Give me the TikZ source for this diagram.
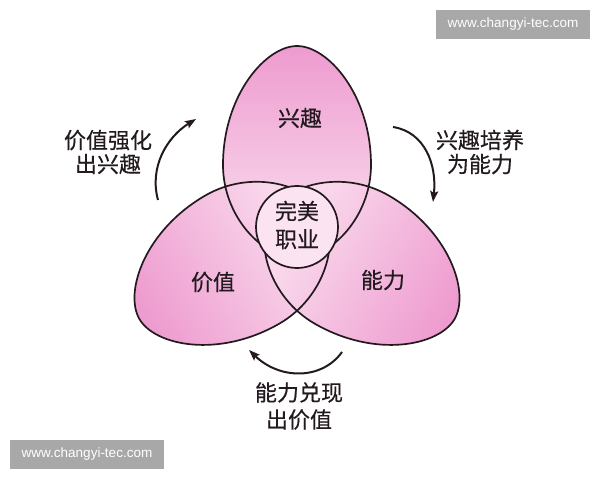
\documentclass[tikz,border=0pt]{standalone}
\usepackage{fontspec}
\usepackage{tikz}
\usetikzlibrary{arrows.meta}
\newfontfamily\cjk[FakeBold=0.4]{Noto Sans CJK SC}
\newfontfamily\webfont{Liberation Sans}
\definecolor{petaldeep}{HTML}{EE9BCF}
\definecolor{petalpale}{HTML}{FBE3F1}
\definecolor{ink}      {HTML}{231A1F}
\definecolor{mark}     {HTML}{A8A8A8}
\newcommand{\petalpath}{(0,182) .. controls (31,182) and (74,133) .. (74,63)
  .. controls (74,12) and (35,-30) .. (0,-30)
  .. controls (-35,-30) and (-74,12) .. (-74,63)
  .. controls (-74,133) and (-31,182) .. (0,182) -- cycle}

\begin{document}
\begin{tikzpicture}[x=1pt, y=1pt,
    cnlabel/.style={font=\cjk\fontsize{22}{24}\selectfont, text=ink, align=center, inner sep=0pt},
    cyclearrow/.style={ink, line width=2pt, -{Stealth[length=11pt, width=8pt, inset=2pt]}},
    webmark/.style={fill=mark, text=white, font=\webfont\fontsize{13.5}{16}\selectfont,
      minimum width=154pt, minimum height=29pt, inner sep=0pt}]
  \useasboundingbox (0,0) rectangle (600,480);
  % petals
  \foreach \ang in {0,120,240}{
    \begin{scope}[shift={(297,252)}, rotate=\ang]
      \shade[top color=petaldeep, bottom color=petalpale, shading angle=\ang] \petalpath;
    \end{scope}
  }
  \foreach \ang in {0,120,240}{
    \begin{scope}[shift={(297,252)}, rotate=\ang]
      \draw[ink, line width=1.7pt] \petalpath;
    \end{scope}
  }
  \draw[ink, line width=1.7pt, fill=petalpale] (297,253) circle (41);
  % labels
  \node[cnlabel] (xq) at (300,362) {兴趣};
  \node[cnlabel] (jz) at (213,198) {价值};
  \node[cnlabel] (nl) at (383,200) {能力};
  \node[cnlabel, font=\cjk\fontsize{22}{28}\selectfont] (wm) at (297,255) {完美\\职业};
  \node[cnlabel] (jzxq) at (108,328) {价值强化\\出兴趣};
  \node[cnlabel] (xqnl) at (480,328) {兴趣培养\\为能力};
  \node[cnlabel, font=\cjk\fontsize{22}{27}\selectfont] (nljz) at (299,74) {能力兑现\\出价值};
  % cycle arrows
  \coordinate (up-s) at (158,280);
  \coordinate (up-e) at (196,361);
  \coordinate (rt-s) at (393,353);
  \coordinate (rt-e) at (433,278);
  \coordinate (bt-s) at (342,128);
  \coordinate (bt-e) at (249,130);
  \draw[cyclearrow] (up-s) .. controls (149,313) and (167,343) .. (up-e);
  \draw[cyclearrow] (rt-s) .. controls (425,348) and (437,315) .. (rt-e);
  \draw[cyclearrow] (bt-s) .. controls (322,100) and (280,100) .. (bt-e);
  % watermarks
  \node[webmark] (wtop) at (513,455.5) {www.changyi-tec.com};
  \node[webmark] (wbot) at (87,25.5) {www.changyi-tec.com};
\end{tikzpicture}
\end{document}
